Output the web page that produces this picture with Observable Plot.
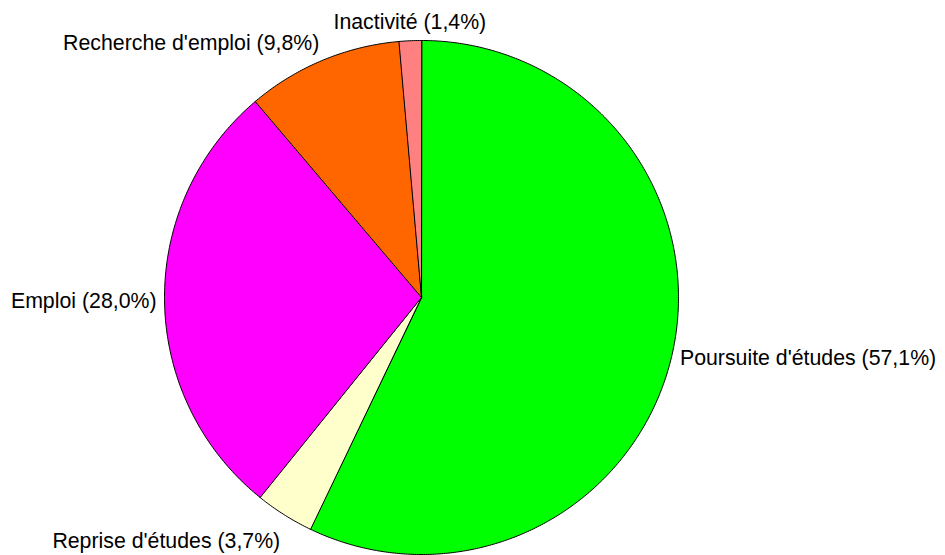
<!DOCTYPE html>
<html>
<head>
<meta charset="utf-8">
<script src="https://cdn.jsdelivr.net/npm/d3@7"></script>
<script src="https://cdn.jsdelivr.net/npm/@observablehq/plot@0.6"></script>
<style>
  html, body { margin: 0; padding: 0; background: #ffffff; }
  #chart svg { display: block; }
</style>
</head>
<body>
<div id="chart"></div>
<script>
// ---- data (clockwise from 12 o'clock) ----
const categories = ["Poursuite d'études", "Reprise d'études", "Emploi", "Recherche d'emploi", "Inactivité"];
const shares = [57.1, 3.7, 28.0, 9.8, 1.4];
const labelTexts = ["Poursuite d'études (57,1%)", "Reprise d'études (3,7%)", "Emploi (28,0%)", "Recherche d'emploi (9,8%)", "Inactivité (1,4%)"];
const sliceColors = ["#00ff00", "#ffffcc", "#ff00ff", "#ff6600", "#ff8080"];

// ---- layout ----
const W = 945, H = 555;
const cx = 421, cy = 297, R = 257;
const labelGap = 8;          // px beyond the rim
const halfText = 11;         // px, half label height
const extraDy = {"Reprise d'études": 10}; // small px nudge like the original

const pie = d3.pie().sort(null).value(d => d.share).startAngle(0).endAngle(2 * Math.PI);
const rows = categories.map((c, i) => ({category: c, share: shares[i], label: labelTexts[i], color: sliceColors[i]}));
const arcs = pie(rows);

// slice outlines in unit coordinates (center, arc points)
const slicePts = [];
arcs.forEach(a => {
  const n = Math.max(2, Math.ceil((a.endAngle - a.startAngle) / (Math.PI / 360)));
  slicePts.push({k: a.data.category, color: a.data.color, x: 0, y: 0});
  for (let j = 0; j <= n; j++) {
    const t = a.startAngle + (a.endAngle - a.startAngle) * j / n;
    slicePts.push({k: a.data.category, color: a.data.color, x: Math.sin(t), y: Math.cos(t)});
  }
});

// label anchors
const labels = arcs.map(a => {
  const m = (a.startAngle + a.endAngle) / 2;
  const s = Math.sin(m), c = Math.cos(m);
  const r = (R + labelGap) / R;
  const dyPx = -c * halfText + (extraDy[a.data.category] || 0); // px downward
  return {
    text: a.data.label,
    x: r * s,
    y: r * c - dyPx / R,
    anchor: s > 0.3 ? "start" : s < -0.3 ? "end" : "middle"
  };
});

const textOpts = {fontSize: 21.3, fill: "#000"};
const chart = Plot.plot({
  width: W, height: H,
  marginTop: 0, marginBottom: 0, marginLeft: 0, marginRight: 0,
  style: {fontFamily: "'Liberation Sans', Arial, sans-serif", background: "#ffffff"},
  x: {domain: [-1, 1], range: [cx - R, cx + R], axis: null},
  y: {domain: [-1, 1], range: [cy + R, cy - R], axis: null},
  color: {type: "identity"},
  marks: [
    Plot.line(slicePts, {x: "x", y: "y", z: "k", fill: "color", stroke: "#000", strokeWidth: 1, curve: "linear-closed", strokeLinejoin: "round"}),
    Plot.text(labels.filter(d => d.anchor === "start"), {x: "x", y: "y", text: "text", textAnchor: "start", ...textOpts}),
    Plot.text(labels.filter(d => d.anchor === "end"), {x: "x", y: "y", text: "text", textAnchor: "end", ...textOpts}),
    Plot.text(labels.filter(d => d.anchor === "middle"), {x: "x", y: "y", text: "text", textAnchor: "middle", ...textOpts})
  ]
});
document.getElementById("chart").appendChild(chart);
</script>
</body>
</html>
